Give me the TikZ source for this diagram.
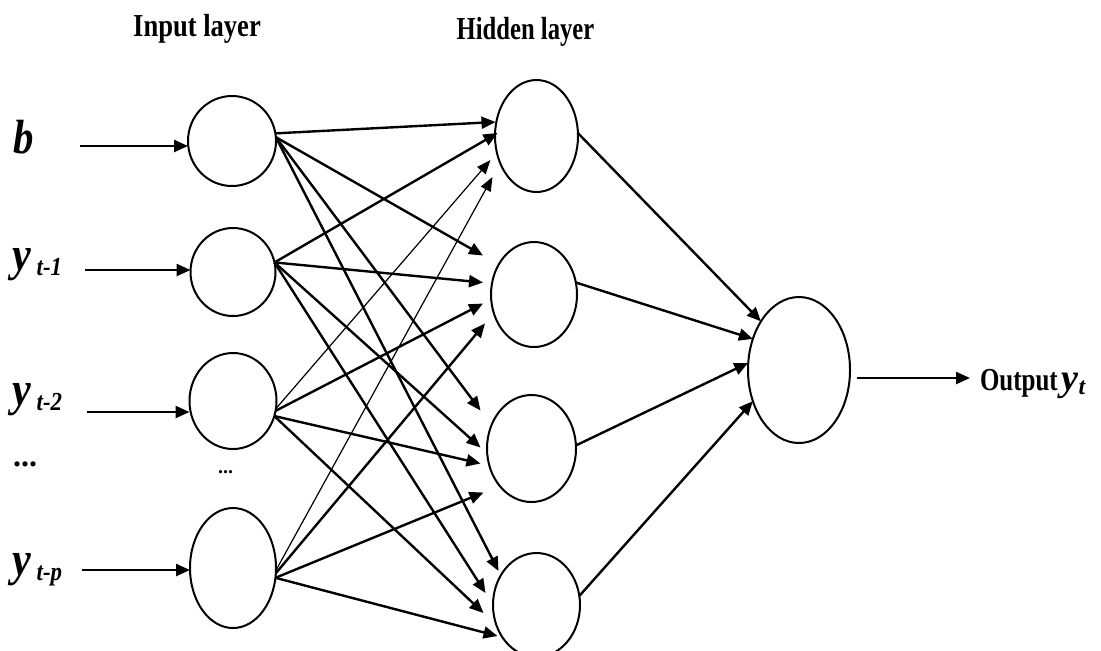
\documentclass[tikz,border=0pt]{standalone}
\usepackage{fontspec}
\setmainfont{Liberation Serif}
\usetikzlibrary{shapes.geometric,arrows.meta,calc}
\newcommand\ylab[1]{\scalebox{0.88}[1]{\fontsize{24}{24}\selectfont\bfseries\itshape y}\hspace{3pt}\raisebox{-2.5pt}{\scalebox{0.88}[1]{\fontsize{13}{13}\selectfont\bfseries\itshape #1}}}
\begin{document}
\begin{tikzpicture}[x=0.5pt,y=-0.5pt,
  neuron/.style={draw,ellipse,line width=1pt,inner sep=0pt,outer sep=0pt},
  arr/.style={line width=1.2pt,-{Triangle[length=7pt,width=6pt]}},
  thinarr/.style={line width=0.6pt,-{Triangle[length=7pt,width=5.5pt]}},
  lbl/.style={inner sep=0pt,outer sep=0pt},
  ttl/.style={inner sep=0pt,outer sep=0pt,font=\bfseries\fontsize{16}{16}\selectfont}]
\useasboundingbox (0,0) rectangle (1101,650);

% titles
\node[ttl,anchor=base] (tin) at (197,36) {\scalebox{0.83}[1]{Input layer}};
\node[ttl,anchor=base] (thid) at (525.5,39) {\scalebox{0.77}[1]{Hidden layer}};

% neurons
\node[neuron,minimum width=44pt,minimum height=45pt] (i1) at (232,141) {};
\node[neuron,minimum width=42.5pt,minimum height=44pt] (i2) at (233,272) {};
\node[neuron,minimum width=43.5pt,minimum height=48pt] (i3) at (233,401) {};
\node[neuron,minimum width=43pt,minimum height=60pt] (i4) at (233,568) {};
\node[neuron,minimum width=41.5pt,minimum height=56pt] (h1) at (536.5,136) {};
\node[neuron,minimum width=43pt,minimum height=52.5pt] (h2) at (534,294.5) {};
\node[neuron,minimum width=44.5pt,minimum height=53.5pt] (h3) at (531.5,448.5) {};
\node[neuron,minimum width=43.5pt,minimum height=52pt] (h4) at (536.5,605) {};
\node[neuron,minimum width=51pt,minimum height=73pt] (o) at (799,370) {};

% input labels
\node[lbl,anchor=base west] (lb) at (13,153) {\scalebox{0.85}[1]{\fontsize{24}{24}\selectfont\bfseries\itshape b}};
\node[lbl,anchor=base west] (l1) at (12,270) {\ylab{t-1}};
\node[lbl,anchor=base west] (l2) at (12,405) {\ylab{t-2}};
\node[lbl,anchor=base west] (lp) at (12,575) {\ylab{t-p}};
\node[lbl,anchor=base west] (ld) at (13,466) {\bfseries\fontsize{16}{16}\selectfont ...};
\node[lbl,anchor=base west] (ldn) at (218,473) {\bfseries\fontsize{10}{10}\selectfont ...};

% input arrows
\coordinate (s1) at (80,146);
\coordinate (s2) at (85,270);
\coordinate (s3) at (87,412);
\coordinate (s4) at (82,570);
\draw[arr] (s1) -- (s1 -| i1.west);
\draw[arr] (s2) -- (s2 -| i2.west);
\draw[arr] (s3) -- (s3 -| i3.west);
\draw[arr] (s4) -- (s4 -| i4.west);

% input -> hidden
\draw[arr] (i1.10) -- ($(h1)+(-41,-14)$);
\draw[arr] (i1.5) -- ($(h2)+(-51,-39)$);
\draw[arr] (i1.5) -- ($(h3)+(-51,-38)$);
\draw[arr] (i1.5) -- ($(h4)+(-38,-34)$);
\draw[arr] (i2.13) -- ($(h1)+(-39,-3)$);
\draw[arr] (i2.13) -- ($(h2)+(-51,-12)$);
\draw[arr] (i2.13) -- ($(h3)+(-51,-1)$);
\draw[arr] (i2.13) -- ($(h4)+(-51,-12)$);
\draw[thinarr] (i3.-10) -- ($(h1)+(-46,24)$);
\draw[arr] (i3.-13) -- ($(h2)+(-51,9)$);
\draw[arr] (i3.-20) -- ($(h3)+(-51,15)$);
\draw[arr] (i3.-20) -- ($(h4)+(-53,8)$);
\draw[thinarr] (i4.-3) -- ($(h1)+(-44,41)$);
\draw[arr] (i4.-7) -- ($(h2)+(-49,29)$);
\draw[arr] (i4.-13) -- ($(h3)+(-48,44)$);
\draw[arr] (i4.-13) -- ($(h4)+(-39,31)$);

% hidden -> output
\draw[arr] (h1.4) -- (o.128);
\draw[arr] (h2.16) -- (o.146);
\draw[arr] (h3.4) -- (o.172);
\draw[arr] (h4.12) -- (o.214);

% output
\coordinate (oe) at (970,378);
\draw[arr] ($(oe -| o.east)+(7,0)$) -- (oe);
\node[lbl,anchor=base west] (lo) at (980,390) {\bfseries\fontsize{16}{16}\selectfont\scalebox{0.78}[1]{Output}\hspace{2pt}{\fontsize{19}{19}\selectfont\itshape y}\raisebox{-2pt}{\fontsize{12}{12}\selectfont\itshape t}};
\end{tikzpicture}
\end{document}
